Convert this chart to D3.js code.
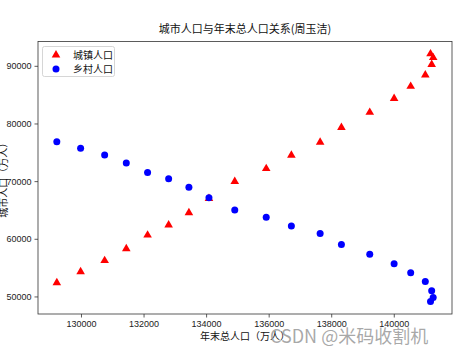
<!DOCTYPE html>
<html><head><meta charset="utf-8">
<script src="https://cdn.jsdelivr.net/npm/d3@7"></script>
<style>body{margin:0;background:#fff;} text{font-family:"Noto Sans CJK SC","DejaVu Sans",sans-serif;}</style>
</head><body>
<svg id="c" width="458" height="354"></svg>
<script>
const totalPop = [129227,129988,130756,131448,132129,132802,133450,134091,134916,135922,136726,137646,138326,139232,140011,140541,141008,141212,141260,141175];
const urbanPop = [52376,54283,56212,58288,60633,62403,64512,66978,69927,72175,74502,76738,79302,81924,84343,86433,88426,90220,91425,92071];
const ruralPop = [76851,75705,74544,73160,71496,70399,68938,67113,64989,63747,62224,60908,59024,57308,55668,54108,52582,50992,49835,49104];
const xTicks = [130000,132000,134000,136000,138000,140000];
const yTicks = [50000,60000,70000,80000,90000];
const title = "城市人口与年末总人口关系(周玉洁)";
const xLabel = "年末总人口（万人）";
const yLabel = "城市人口（万人）";
const seriesNames = ["城镇人口","乡村人口"];
const watermark = "CSDN @米码收割机";

const svg = d3.select("#c");
const L=38, R=452, T=41.5, B=314;
const xmin=d3.min(totalPop), xmax=d3.max(totalPop), xm=(xmax-xmin)*0.05;
const allY = urbanPop.concat(ruralPop);
const ymin=d3.min(allY), ymax=d3.max(allY), ym=(ymax-ymin)*0.05;
const x = d3.scaleLinear().domain([xmin-xm,xmax+xm]).range([L,R]);
const y = d3.scaleLinear().domain([ymin-ym,ymax+ym]).range([B,T]);

const gx = svg.append("g").attr("transform",`translate(0,${B})`)
  .call(d3.axisBottom(x).tickValues(xTicks).tickFormat(d3.format("d")).tickSize(3.5).tickPadding(3));
const gy = svg.append("g").attr("transform",`translate(${L},0)`)
  .call(d3.axisLeft(y).tickValues(yTicks).tickFormat(d3.format("d")).tickSize(3.5).tickPadding(3));
[gx,gy].forEach(g=>{g.select(".domain").remove();
  g.selectAll("text").attr("font-size",9).attr("fill","#222").style("font-family","'Liberation Sans',Arial,sans-serif");
  g.selectAll("line").attr("stroke","#333").attr("stroke-width",0.8);});

svg.append("rect").attr("x",L).attr("y",T).attr("width",R-L).attr("height",B-T)
  .attr("fill","none").attr("stroke","#333").attr("stroke-width",0.8);

const tri = d3.symbol().type(d3.symbolTriangle).size(32);
svg.append("g").selectAll("path").data(totalPop).join("path")
  .attr("d",tri).attr("fill","red")
  .attr("transform",(d,i)=>`translate(${x(d)},${y(urbanPop[i])})`);
svg.append("g").selectAll("circle").data(totalPop).join("circle")
  .attr("cx",d=>x(d)).attr("cy",(d,i)=>y(ruralPop[i])).attr("r",3.5).attr("fill","blue");

// legend
const lg = svg.append("g");
lg.append("rect").attr("x",42.5).attr("y",46.5).attr("width",72).attr("height",30).attr("rx",2)
  .attr("fill","#fff").attr("fill-opacity",0.8).attr("stroke","#ccc").attr("stroke-width",0.8);
lg.append("path").attr("d",tri).attr("fill","red").attr("transform","translate(56,55)");
lg.append("circle").attr("cx",56).attr("cy",69).attr("r",3.5).attr("fill","blue");
lg.selectAll("text.l").data(seriesNames).join("text").attr("class","l")
  .attr("x",73).attr("y",(d,i)=>55+i*14).attr("dy","0.35em").attr("font-size",10).attr("fill","#111").text(d=>d);

svg.append("text").attr("x",(L+R)/2).attr("y",33).attr("text-anchor","middle").attr("font-size",11).attr("fill","#111").text(title);
svg.append("text").attr("x",(L+R)/2).attr("y",340).attr("text-anchor","middle").attr("font-size",10).attr("fill","#111").text(xLabel);
svg.append("text").attr("transform",`translate(7,${(T+B)/2}) rotate(-90)`).attr("text-anchor","middle").attr("font-size",10).attr("fill","#111").text(yLabel);
svg.append("text").attr("x",270).attr("y",343).attr("font-size",18).attr("fill","#999").attr("fill-opacity",0.85).text(watermark);
</script>
</body></html>
